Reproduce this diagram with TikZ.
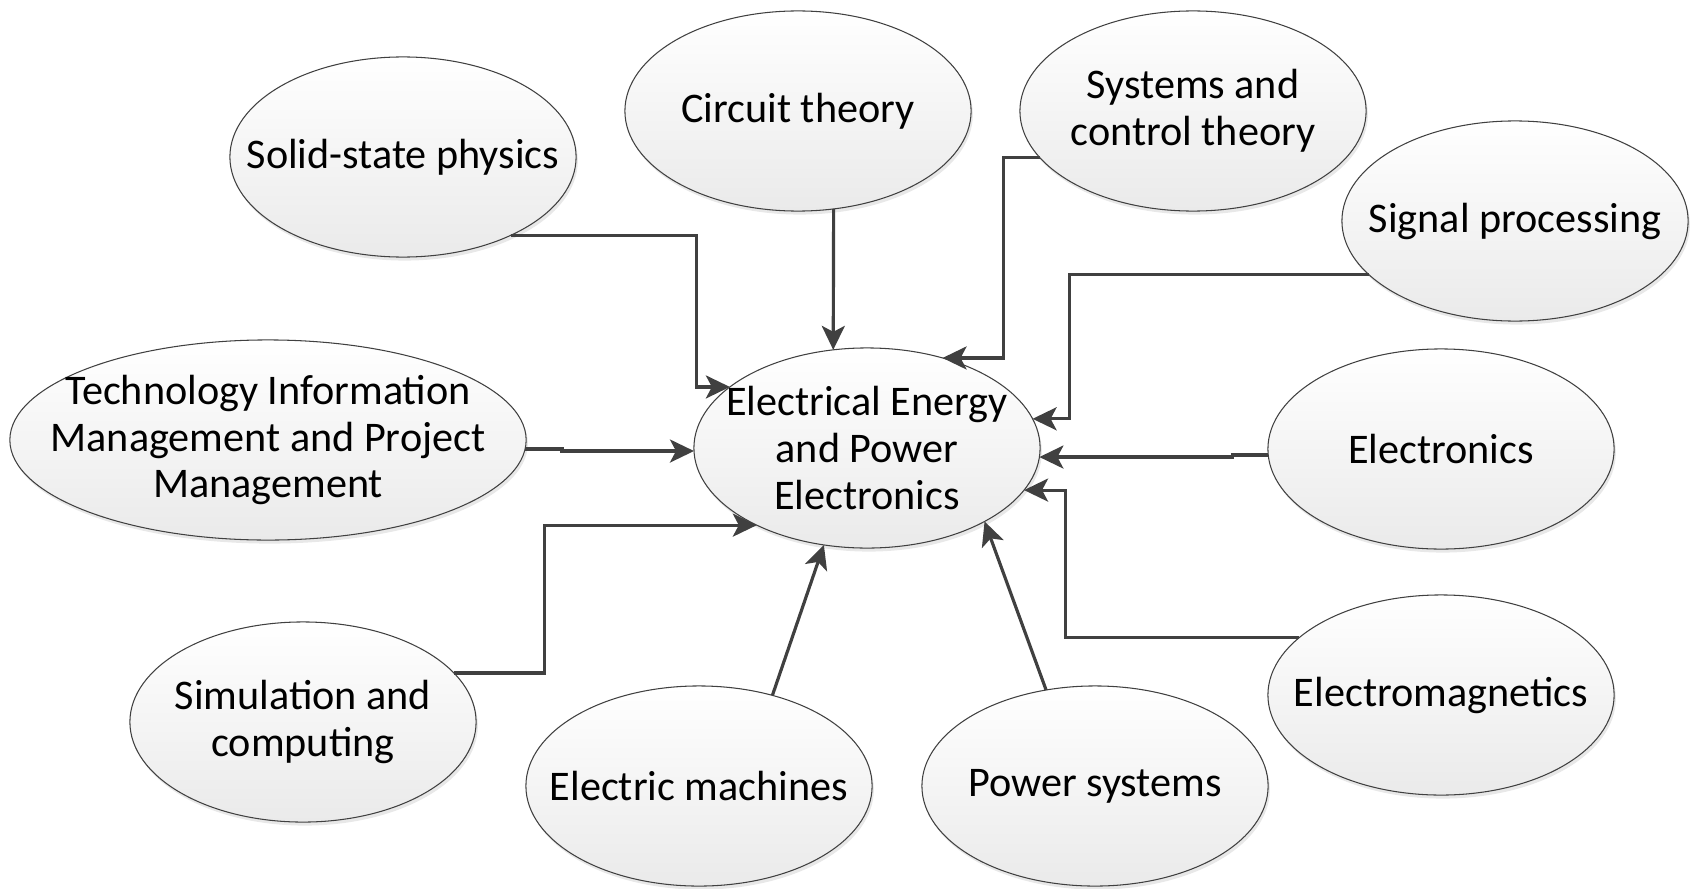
\documentclass[tikz,border=0pt]{standalone}
\usepackage{fontspec}
\setmainfont{Carlito}
\usetikzlibrary{arrows.meta,shapes.geometric,shadows}
\definecolor{LineGray}{RGB}{64,64,64}
\definecolor{SoftGray}{RGB}{234,234,234}
\tikzset{
  topic/.style={ellipse,draw=LineGray,line width=0.3pt,top color=white,
    bottom color=SoftGray,minimum width=3.46cm,minimum height=2cm,
    inner xsep=-0.45cm,inner ysep=-0.2cm,outer sep=0pt,align=center,
    font=\fontsize{12}{13.3}\selectfont,
    drop shadow={shadow xshift=0.5pt,shadow yshift=-1pt,opacity=0.18}},
  arrow/.style={-{Stealth[length=2.4mm,width=2.3mm,inset=0.6mm]},
    line width=0.9pt,LineGray}
}
\begin{document}
\begin{tikzpicture}[x=0.01cm,y=-0.01cm]
\useasboundingbox (0,0) rectangle (1692,888);

% Hub
\node[topic] (eepe) at (867,448) {Electrical Energy\\and Power\\Electronics};

% Topics round the hub
\node[topic] (solid) at (403,157) {Solid-state physics};
\node[topic] (circuit) at (798,111) {Circuit theory};
\node[topic] (systems) at (1193,111) {Systems and\\control theory};
\node[topic] (signal) at (1515,221) {Signal processing};
\node[topic,minimum width=5.16cm] (tech) at (268,440) {Technology Information\\Management and Project\\Management};
\node[topic] (electronics) at (1441,449) {Electronics};
\node[topic] (electromag) at (1441,695) {Electromagnetics};
\node[topic] (simulation) at (303,722) {Simulation and\\computing};
\node[topic] (machines) at (699,786) {Electric machines};
\node[topic] (power) at (1095,786) {Power systems};

% Connectors into the hub
\draw[arrow] (solid.-36) -| ([xshift=-3.3mm]eepe.156) -- (eepe.156);
\draw[arrow] (circuit.-70) -- (eepe.109);
\draw[arrow] (systems.197) -| ([xshift=6.05mm]eepe.50) -- (eepe.50);
\draw[arrow] (signal.200) -| ([xshift=3.7mm]eepe.10) -- (eepe.10);
\draw[arrow] (tech.-2) -| ([xshift=-13.2mm]eepe.181) -- (eepe.181);
\draw[arrow] (electronics.182) -| ([xshift=19.3mm]eepe.-3) -- (eepe.-3);
\draw[arrow] (electromag.158) -| ([xshift=4.1mm]eepe.-15) -- (eepe.-15);
\draw[arrow] (simulation.18) -| ([xshift=-21.2mm]eepe.215) -- (eepe.215);
\draw[arrow] (machines.51) -- (eepe.246);
\draw[arrow] (power.117) -- (eepe.-32);
\end{tikzpicture}
\end{document}
